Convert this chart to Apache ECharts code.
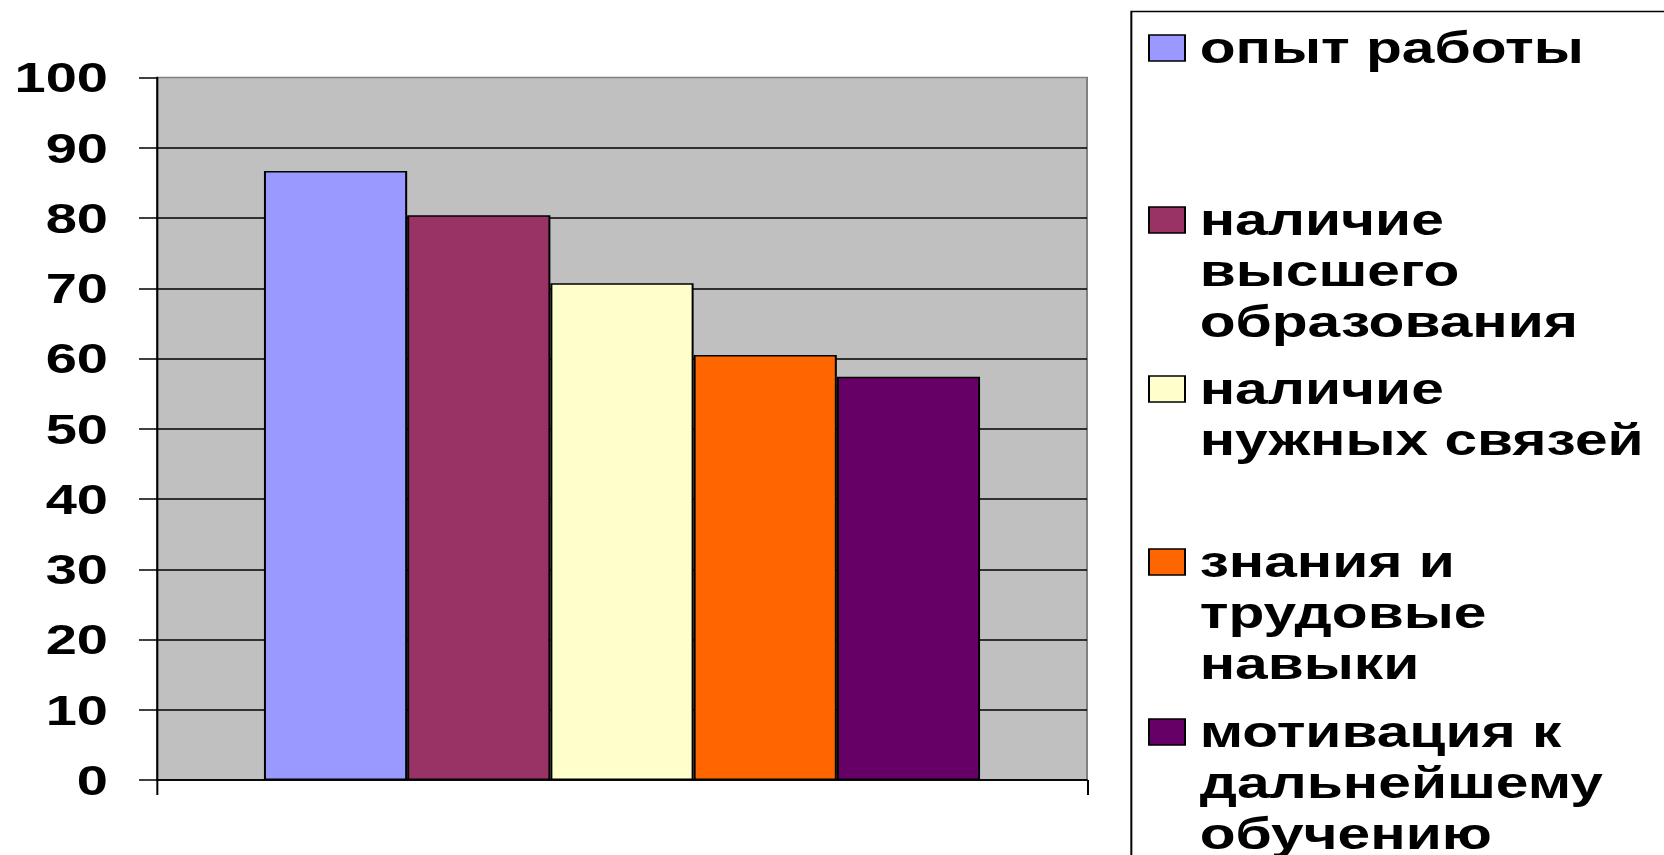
<!DOCTYPE html>
<html>
<head>
<meta charset="utf-8">
<script src="https://cdn.jsdelivr.net/npm/echarts@6/dist/echarts.min.js"></script>
<style>
  html, body { margin: 0; padding: 0; background: #ffffff; overflow: hidden; }
  #chart { width: 1248px; height: 855px; transform: scaleX(1.333333); transform-origin: 0 0; }
</style>
</head>
<body>
<div id="chart"></div>
<script>
// ---- data ----
const categories = ['опыт работы', 'наличие высшего образования', 'наличие нужных связей', 'знания и трудовые навыки', 'мотивация к дальнейшему обучению'];
const values = [86.7, 80.4, 70.7, 60.5, 57.4];
const legendLines = [
  ['опыт работы'],
  ['наличие', 'высшего', 'образования'],
  ['наличие', 'нужных связей'],
  ['знания и', 'трудовые', 'навыки'],
  ['мотивация к', 'дальнейшему', 'обучению']
];
const yMin = 0, yMax = 100, yStep = 10;

// ---- styles / layout ----
const colors = ['#9999FF', '#993366', '#FFFFCC', '#FF6600', '#660066'];
const legendFirstLineY = [48, 220, 389, 562, 732];
const LH = 51;
const FONT = "'Liberation Sans', Arial, sans-serif";

const chart = echarts.init(document.getElementById('chart'), null, { renderer: 'svg' });

const series = categories.map((name, i) => ({
  name: name,
  type: 'bar',
  data: [values[i]],
  barGap: '0%',
  barCategoryGap: '23%',
  itemStyle: { color: colors[i], borderColor: '#000', borderWidth: 1.5 },
  emphasis: { disabled: true }
}));

// Leading blank lines keep the first text line level with the legend icon.
const legends = categories.map((name, i) => {
  const n = legendLines[i].length;
  return {
    orient: 'vertical',
    left: 861,
    top: legendFirstLineY[i] - (2 * n - 1) * LH / 2,
    padding: 0,
    data: [name],
    selectedMode: false,
    icon: 'rect',
    itemWidth: 27,
    itemHeight: 26,
    itemStyle: { borderColor: '#000', borderWidth: 1.5 },
    formatter: (nm) => {
      const lines = legendLines[categories.indexOf(nm)];
      return '\n'.repeat(lines.length - 1) + lines.join('\n');
    },
    textStyle: {
      fontFamily: FONT, fontWeight: 'bold', fontSize: 44, lineHeight: LH, color: '#000',
      padding: [0, 0, 0, 6],
      backgroundColor: 'rgba(0,0,0,0)'
    }
  };
});

chart.setOption({
  animation: false,
  backgroundColor: '#ffffff',
  grid: {
    left: 117.75, right: 432.75, top: 77.5, bottom: 75,
    show: true, backgroundColor: '#C0C0C0', borderColor: '#808080', borderWidth: 1.5
  },
  legend: legends,
  graphic: [{
    type: 'rect', left: 846, top: 9, z: 0,
    shape: { width: 600, height: 1000 },
    style: { fill: 'none', stroke: '#000', lineWidth: 1.5 }
  }],
  xAxis: {
    type: 'category',
    data: [''],
    axisLine: { show: true, lineStyle: { color: '#000', width: 1.5 } },
    axisTick: { show: true, length: 15, lineStyle: { color: '#000', width: 1.5 } },
    axisLabel: { show: false },
    splitLine: { show: false }
  },
  yAxis: {
    type: 'value',
    min: yMin, max: yMax, interval: yStep,
    axisLine: { show: true, lineStyle: { color: '#000', width: 1.5 } },
    axisTick: { show: true, length: 13.5, lineStyle: { color: '#000', width: 1.5 } },
    axisLabel: { margin: 36.75, fontFamily: FONT, fontWeight: 'bold', fontSize: 42, color: '#000' },
    splitLine: { show: true, showMaxLine: false, lineStyle: { color: '#000', width: 1.5 } }
  },
  series: series
});
</script>
</body>
</html>
